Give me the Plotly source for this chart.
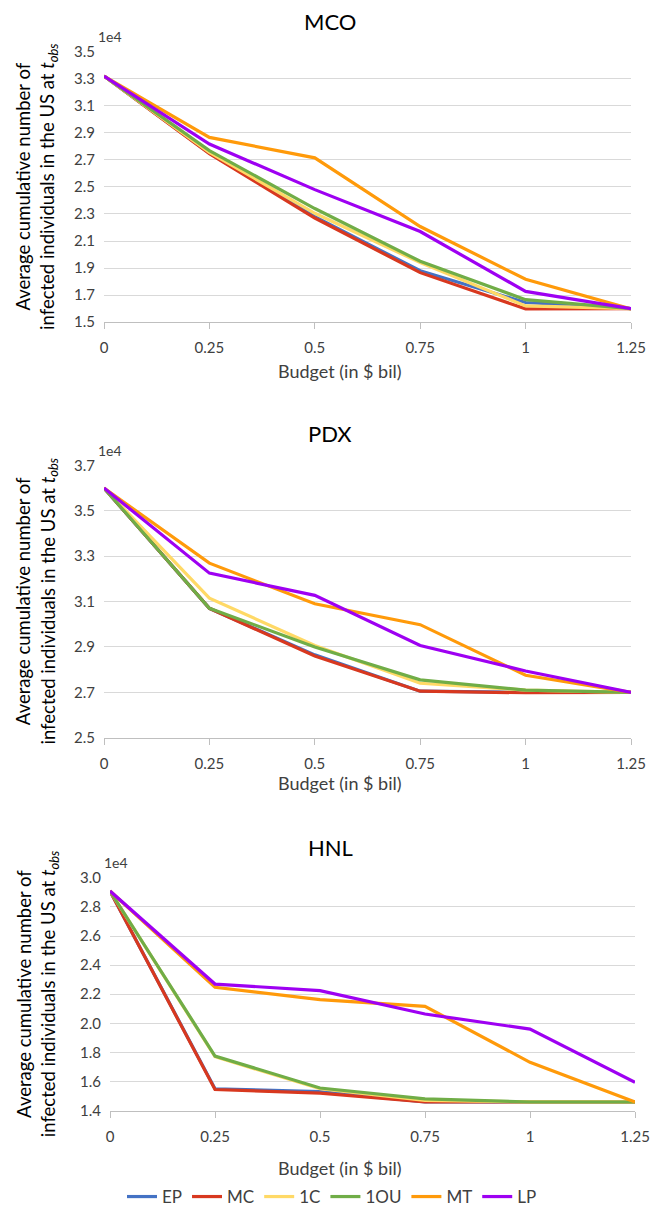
import plotly.graph_objects as go

W, H = 650, 1215


def px(xp):
    return xp / W


def py(yp):
    return 1 - yp / H


budget = [0, 0.25, 0.5, 0.75, 1, 1.25]
budget_labels = ["0", "0.25", "0.5", "0.75", "1", "1.25"]
methods = ["EP", "MC", "1C", "1OU", "MT", "LP"]
colors = ["#4472C4", "#D8381F", "#FFD966", "#70AD47", "#FF9A0A", "#9E00F2"]

# values in units of 1e4 infected individuals
mco_EP = [3.32, 2.75, 2.28, 1.88, 1.645, 1.60]
mco_MC = [3.32, 2.745, 2.27, 1.866, 1.598, 1.60]
mco_1C = [3.32, 2.756, 2.305, 1.94, 1.62, 1.60]
mco_1OU = [3.32, 2.768, 2.34, 1.95, 1.666, 1.60]
mco_MT = [3.32, 2.866, 2.715, 2.207, 1.817, 1.598]
mco_LP = [3.32, 2.817, 2.48, 2.17, 1.727, 1.60]

pdx_EP = [3.60, 3.07, 2.865, 2.705, 2.70, 2.70]
pdx_MC = [3.60, 3.07, 2.86, 2.705, 2.698, 2.70]
pdx_1C = [3.60, 3.115, 2.906, 2.74, 2.71, 2.70]
pdx_1OU = [3.60, 3.07, 2.90, 2.755, 2.71, 2.70]
pdx_MT = [3.60, 3.269, 3.09, 2.998, 2.775, 2.70]
pdx_LP = [3.60, 3.225, 3.127, 2.906, 2.794, 2.70]

hnl_EP = [2.91, 1.55, 1.53, 1.46, 1.46, 1.46]
hnl_MC = [2.91, 1.545, 1.52, 1.459, 1.459, 1.459]
hnl_1C = [2.91, 1.77, 1.55, 1.47, 1.46, 1.46]
hnl_1OU = [2.91, 1.775, 1.555, 1.48, 1.459, 1.459]
hnl_MT = [2.91, 2.248, 2.163, 2.117, 1.732, 1.459]
hnl_LP = [2.91, 2.27, 2.225, 2.064, 1.96, 1.595]

panels = [
    dict(name="MCO", series=[mco_EP, mco_MC, mco_1C, mco_1OU, mco_MT, mco_LP],
         yrange=[1.5, 3.5], px_x=(104, 631), px_y=(52, 324), title_y=22,
         budget_y=373),
    dict(name="PDX", series=[pdx_EP, pdx_MC, pdx_1C, pdx_1OU, pdx_MT, pdx_LP],
         yrange=[2.5, 3.7], px_x=(104, 631), px_y=(468, 742), title_y=436,
         budget_y=788),
    dict(name="HNL", series=[hnl_EP, hnl_MC, hnl_1C, hnl_1OU, hnl_MT, hnl_LP],
         yrange=[1.4, 3.0], px_x=(110, 635), px_y=(883, 1117), title_y=852,
         budget_y=1175),
]

FONT = "Lato, 'Open Sans', sans-serif"
GRID = "#D9D9D9"
AXIS = "#BFBFBF"

fig = go.Figure()
layout = dict(
    width=W, height=H,
    margin=dict(l=0, r=0, t=0, b=0),
    paper_bgcolor="white", plot_bgcolor="white",
    font=dict(family=FONT, color="#404040"),
    showlegend=True,
    legend=dict(orientation="h", x=px(332), xanchor="center", y=py(1204),
                yanchor="middle", font=dict(size=17, color="#404040"),
                itemwidth=30, tracegroupgap=0, bgcolor="rgba(0,0,0,0)"),
)
annotations = []

for i, p in enumerate(panels):
    n = "" if i == 0 else str(i + 1)
    xa, ya = "xaxis" + n, "yaxis" + n
    x0, x1 = p["px_x"]
    yt, yb = p["px_y"]
    layout[xa] = dict(
        domain=[px(x0), px(x1)], anchor="y" + n, range=[0, 1.25],
        tickmode="array", tickvals=budget, ticktext=budget_labels,
        showgrid=False, zeroline=False, showline=True, linecolor=AXIS, linewidth=1.3,
        ticks="outside", ticklen=6, tickcolor=AXIS, tickwidth=1.3,
        ticklabelstandoff=6, ticklabeloverflow="allow",
        tickfont=dict(size=15, color="#404040"), automargin=False,
    )
    layout[ya] = dict(
        domain=[py(yb), py(yt)], anchor="x" + n, range=p["yrange"],
        dtick=0.2, tick0=p["yrange"][0], tickformat=".1f",
        showgrid=True, gridcolor=GRID, gridwidth=1.3, zeroline=False,
        showline=False, ticks="", tickfont=dict(size=15, color="#404040"),
        automargin=False, ticklabelstandoff=8,
    )
    for j, (m, c) in enumerate(zip(methods, colors)):
        fig.add_trace(go.Scatter(
            x=budget, y=p["series"][j], mode="lines", name=m,
            line=dict(color=c, width=3.2), xaxis="x" + n, yaxis="y" + n,
            showlegend=(i == 0),
        ))
    yc = (yt + yb) / 2
    annotations += [
        dict(text=p["name"], x=px(330), y=py(p["title_y"]), xref="paper", yref="paper",
             showarrow=False, xanchor="center", yanchor="middle",
             font=dict(size=22, color="#000000")),
        dict(text="1e4", x=px(x0 - 8), y=py(yt - 15), xref="paper", yref="paper",
             showarrow=False, xanchor="left", yanchor="middle",
             font=dict(size=14, color="#404040")),
        dict(text="Average cumulative number of<br>infected individuals in the US at <i>t<sub>obs</sub></i>",
             x=px(37), y=py(yc), xref="paper", yref="paper", textangle=-90,
             showarrow=False, xanchor="center", yanchor="middle",
             font=dict(size=18.5, color="#000000")),
        dict(text="Budget (in $ bil)", x=px(340), y=py(p["budget_y"]),
             xref="paper", yref="paper", showarrow=False, xanchor="center", yanchor="middle",
             font=dict(size=18, color="#404040")),
    ]

layout["annotations"] = annotations
fig.update_layout(**layout)
fig.write_html(
    "out.html",
    config={"displayModeBar": False},
    post_script="document.body.style.margin='0';document.body.style.overflow='hidden';",
)
